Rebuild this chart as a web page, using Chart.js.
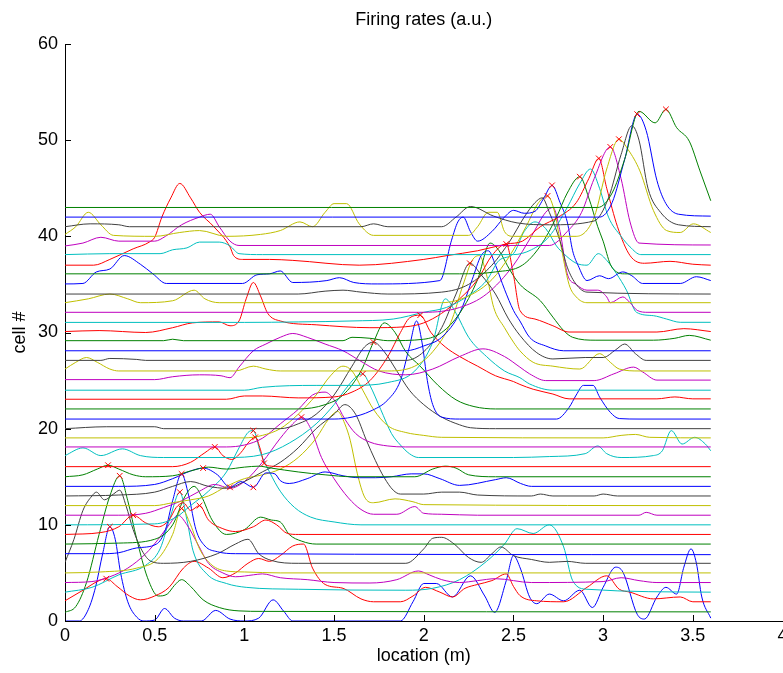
<!DOCTYPE html>
<html>
<head>
<meta charset="utf-8">
<script src="https://cdn.jsdelivr.net/npm/chart.js@4.4.1/dist/chart.umd.min.js"></script>
<style>
  html, body { margin: 0; padding: 0; overflow: hidden; background: #fff; }
  #wrap { width: 800px; height: 673px; }
</style>
</head>
<body>
<div id="wrap"><canvas id="chart"></canvas></div>
<script>
// matlab default colour order: b g r c m y k
const colorOrder = ['rgb(0,0,255)', 'rgb(0,128,0)', 'rgb(255,0,0)', 'rgb(0,191,191)', 'rgb(191,0,191)', 'rgb(191,191,0)', 'rgb(64,64,64)']

const xTicks = [0, 0.5, 1, 1.5, 2, 2.5, 3, 3.5, 4]
const yTicks = [0, 10, 20, 30, 40, 50, 60]

// one trace per cell: [location (m), cell offset + firing rate]
const c0 = [[0,0],[0.08,0],[0.13,1.2],[0.17,3.5],[0.21,7],[0.25,9.8],[0.28,8.5],[0.31,5],[0.35,2],[0.4,0.4],[0.44,0],[0.5,0.1],[0.555,1.3],[0.61,0.3],[0.66,0],[0.76,0],[0.84,1.1],[0.92,0.2],[1.0,0],[1.08,0.3],[1.16,2.2],[1.22,1],[1.27,0],[1.87,0],[1.94,2],[2.0,3.9],[2.07,3.9],[2.16,2.5],[2.26,4.7],[2.34,2.6],[2.395,0.9],[2.46,4.2],[2.5,6.8],[2.54,5.4],[2.59,2.5],[2.63,1.8],[2.7,2.8],[2.78,2.1],[2.87,3.2],[2.94,1.4],[3.0,3.5],[3.07,5.6],[3.11,5.1],[3.19,0.7],[3.23,0.2],[3.3,2.5],[3.35,3.5],[3.41,2.8],[3.45,5.6],[3.49,7.5],[3.52,6],[3.55,2.5],[3.6,0.3]]
const c1 = [[0,0.9],[0.06,1.5],[0.12,4],[0.19,9],[0.25,13],[0.305,15.1],[0.35,12.5],[0.4,8.5],[0.46,4.5],[0.52,2.6],[0.57,2.8],[0.61,3.7],[0.65,4.3],[0.7,3.6],[0.77,2.2],[0.86,1.4],[0.97,1.05],[1.1,1],[3.6,0.95]]
const c2 = [[0,2.1],[0.1,3.2],[0.19,4.2],[0.23,4.4],[0.29,3.6],[0.36,2.6],[0.42,2.2],[0.5,2.6],[0.58,3.5],[0.66,5.5],[0.72,6.2],[0.8,5.5],[0.88,4.5],[0.95,5],[1.02,6],[1.08,6.5],[1.14,6.2],[1.2,6.8],[1.27,7.8],[1.33,8],[1.38,5.5],[1.45,3.8],[1.55,3.4],[1.65,2.3],[1.72,2],[1.87,2],[1.94,2.6],[2.01,3.5],[2.09,3.0],[2.16,2.5],[2.23,3.4],[2.3,3.8],[2.38,4.2],[2.46,4.9],[2.5,3.6],[2.536,2.65],[2.63,2.1],[2.78,2],[2.91,3.5],[3.02,4.7],[3.09,3.3],[3.15,3],[3.28,2.3],[3.43,2.5],[3.5,2],[3.6,2]]
const c3 = [[0,3],[0.15,3.5],[0.3,4.8],[0.45,5.8],[0.53,7.5],[0.59,11],[0.64,13.4],[0.68,10.5],[0.714,7.3],[0.79,4.9],[0.9,3.9],[1.01,3.5],[1.3,3.3],[1.9,3.2],[2.05,3.4],[2.2,4.3],[2.35,6.2],[2.45,8],[2.52,9.6],[2.61,9.1],[2.7,10.0],[2.78,7.7],[2.83,4.2],[2.91,3.3],[3.6,3]]
const c4 = [[0,4],[0.15,4.1],[0.25,4.6],[0.35,5.5],[0.45,7],[0.52,8.5],[0.58,10],[0.63,11],[0.68,10],[0.74,8],[0.8,6],[0.88,5],[0.95,4.6],[1.05,4.8],[1.1,4.9],[1.2,4.5],[1.35,4.3],[1.5,4.0],[1.7,3.95],[1.85,4.3],[1.97,5.2],[2.03,4.8],[2.1,4.3],[2.2,4.0],[2.3,4.2],[2.4,4.4],[2.6,4],[3.0,4.1],[3.1,4.5],[3.2,4.2],[3.3,4],[3.6,4]]
const c5 = [[0,5],[0.2,5.1],[0.4,5.5],[0.52,6.5],[0.6,9],[0.65,11.7],[0.7,10],[0.75,7.5],[0.82,5.8],[0.9,5.2],[1.0,5.1],[1.2,5.0],[3.6,5.0]]
const c6 = [[0,6.1],[0.05,8.5],[0.1,11.5],[0.15,13],[0.175,13.4],[0.22,12.6],[0.27,13.2],[0.305,13.6],[0.34,12],[0.38,9.5],[0.43,7.3],[0.48,6.2],[0.55,6],[0.7,6.2],[0.85,7],[0.95,8],[1.02,8.5],[1.08,7],[1.15,6.3],[1.3,6],[1.9,6],[2.0,7.5],[2.05,8.6],[2.1,8.7],[2.17,8],[2.25,6.6],[2.32,6.1],[2.38,7],[2.43,7.7],[2.5,6.8],[2.6,6.4],[2.7,6.1],[2.8,6.2],[2.9,6.0],[3.6,6.0]]
const c7 = [[0,7],[0.2,7],[0.3,7.1],[0.4,7.6],[0.51,8],[0.56,9.5],[0.6,12.5],[0.65,15.3],[0.69,13],[0.73,9.5],[0.78,7.8],[0.85,7.2],[0.95,7],[3.6,6.9]]
const c8 = [[0,8],[0.3,8.1],[0.5,8.5],[0.6,10],[0.67,13],[0.72,14],[0.76,13],[0.82,10.5],[0.9,9],[1.0,9.5],[1.09,10.8],[1.15,10.5],[1.2,10.3],[1.25,9],[1.32,8.3],[1.4,8],[3.6,8]]
const c9 = [[0,9],[0.2,9.2],[0.3,9.8],[0.38,11],[0.45,10.2],[0.52,9.8],[0.58,10.5],[0.62,11.8],[0.66,12.3],[0.7,11.5],[0.75,12.0],[0.8,10.5],[0.88,9.6],[0.95,9.3],[1.05,9.8],[1.12,10.5],[1.18,10],[1.24,9.1],[1.3,9],[3.6,9]]
const c10 = [[0,10],[0.5,10.1],[0.62,10.8],[0.7,12],[0.8,13.5],[0.9,15.5],[0.97,18],[1.02,19.6],[1.05,19.8],[1.09,17.5],[1.14,15.5],[1.2,13.5],[1.28,11.8],[1.37,10.8],[1.5,10.3],[1.65,10],[3.6,10]]
const c11 = [[0,11],[0.3,11],[0.45,11.2],[0.55,11.8],[0.65,12.5],[0.75,13.5],[0.835,14.2],[0.92,13.8],[1.0,14.5],[1.1,16.5],[1.2,19],[1.27,20.5],[1.32,21.2],[1.37,20],[1.43,17],[1.5,14.8],[1.58,12.8],[1.65,11.6],[1.72,11.1],[1.85,11.1],[1.95,11.9],[2.0,11.2],[2.1,11.1],[2.3,11.0],[3.2,11.0],[3.24,11.3],[3.3,11.0],[3.6,11]]
const c12 = [[0,12],[0.5,12],[0.6,12.3],[0.7,12.6],[0.8,13],[0.9,14],[1.0,14.8],[1.1,15.2],[1.2,15.8],[1.3,17],[1.4,19],[1.47,21],[1.52,21.8],[1.56,20.5],[1.59,18.8],[1.63,15.3],[1.67,12.9],[1.72,12.3],[1.84,12.7],[1.94,12.4],[2.0,12.1],[3.6,12]]
const c13 = [[0,13],[0.3,13.1],[0.5,13.4],[0.6,14],[0.7,14.5],[0.8,14],[0.9,13.8],[1.0,14.5],[1.1,15.5],[1.2,16.5],[1.3,18],[1.4,20],[1.5,21.5],[1.56,22.5],[1.62,21.5],[1.68,18.8],[1.73,16.7],[1.78,14.9],[1.83,13.6],[1.87,13.2],[2.0,13.2],[2.1,13.4],[2.2,13.4],[2.3,13.1],[2.6,13.0],[2.65,13.2],[2.72,13],[2.95,13],[3.0,13.2],[3.08,13],[3.6,13]]
const c14 = [[0,14],[0.3,14],[0.5,14.2],[0.6,14.8],[0.7,15.6],[0.77,15.9],[0.85,15.2],[0.92,13.9],[0.98,14.5],[1.05,13.9],[1.12,15.4],[1.17,15.3],[1.2,14.6],[1.25,14.3],[1.35,14.8],[1.45,15.5],[1.55,15.1],[1.64,14.9],[1.73,14.9],[1.82,15.0],[1.93,15.3],[2.0,15.3],[2.09,14.8],[2.2,14.1],[2.4,14.7],[2.46,14.9],[2.54,14.3],[2.6,14],[3.6,14]]
const c15 = [[0,15],[0.1,15.2],[0.18,15.8],[0.24,16.2],[0.3,15.8],[0.38,15.2],[0.45,15],[0.6,15.1],[0.7,15.6],[0.8,16],[0.9,15.8],[1.0,16],[1.08,16.1],[1.15,15.9],[1.3,15.5],[1.45,15.2],[1.6,15],[1.95,15],[2.05,15.8],[2.12,16.1],[2.18,15.9],[2.25,15.2],[2.4,15],[3.6,15]]
const c16 = [[0,16.05],[0.6,16.05],[0.7,16.5],[0.78,17.5],[0.835,18.1],[0.88,17.2],[0.93,16.8],[0.98,17.5],[1.02,18.5],[1.06,19.1],[1.09,17.8],[1.11,16.4],[1.15,16.1],[1.2,16.05],[3.6,16.05]]
const c17 = [[0,17.2],[0.1,18],[0.2,17.2],[0.32,17.9],[0.42,17.2],[0.55,17],[0.9,17],[1.1,17.3],[1.25,18.5],[1.4,20.5],[1.5,22.5],[1.58,24.5],[1.63,25.5],[1.66,25.7],[1.7,24.5],[1.76,22],[1.82,19.5],[1.87,18.3],[1.92,17.4],[1.97,17],[2.5,17],[2.7,17.1],[2.9,17.4],[2.97,18.2],[3.02,17.4],[3.1,17],[3.28,17.2],[3.33,17.7],[3.38,19.8],[3.44,18.4],[3.51,19.1],[3.57,18.4],[3.6,17.7]]
const c18 = [[0,18.1],[0.9,18.1],[1.0,18.3],[1.1,19],[1.2,20.5],[1.3,22],[1.38,23.5],[1.45,23.8],[1.5,23],[1.56,21],[1.62,19.5],[1.7,18.6],[1.8,18.2],[1.9,18.1],[3.6,18.1]]
const c19 = [[0,19.04],[1.0,19.04],[1.1,19.3],[1.2,20],[1.3,21.5],[1.4,23.5],[1.48,25.5],[1.55,26.5],[1.6,26],[1.66,24],[1.72,22],[1.8,20.3],[1.9,19.6],[2.0,19.3],[2.1,19.1],[3.0,19.04],[3.1,19.3],[3.18,19.4],[3.26,19.1],[3.6,19.04]]
const c20 = [[0,20],[0.23,20.2],[0.5,20.2],[0.55,20],[1.2,20],[1.3,20.5],[1.4,21.5],[1.5,23.5],[1.6,26.5],[1.67,28.5],[1.72,29],[1.78,28],[1.85,26],[1.92,24],[2.0,22.5],[2.1,21.2],[2.2,20.4],[2.26,20.1],[2.4,20],[3.6,20]]
const c21 = [[0,21],[1.5,21],[1.6,21.2],[1.7,21.8],[1.8,23],[1.87,25],[1.92,28.5],[1.96,31.2],[1.99,29],[2.02,25],[2.05,22.5],[2.1,21.2],[2.2,21],[2.74,21],[2.81,22.2],[2.85,23.5],[2.89,24.5],[2.944,24.5],[2.98,23.3],[3.04,21.7],[3.09,21.05],[3.2,21],[3.6,21]]
const c22 = [[0,22.05],[1.3,22.05],[1.45,22.5],[1.55,23.5],[1.65,26],[1.72,29],[1.78,31],[1.84,30],[1.9,28],[1.98,26.5],[2.08,24.5],[2.18,23],[2.28,22.3],[2.4,22.05],[3.6,22.05]]
const c23 = [[0,23.06],[0.9,23.06],[1.0,23.4],[1.1,23.4],[1.3,23.2],[1.5,23.3],[1.6,23.8],[1.7,25],[1.8,27.5],[1.87,30],[1.92,31.5],[1.98,31.8],[2.04,30],[2.12,28.5],[2.2,27.5],[2.3,26.5],[2.4,25.5],[2.5,24.9],[2.536,24.6],[2.61,24.1],[2.72,23.6],[2.81,23.1],[3.3,23.1],[3.4,23.3],[3.5,23.1],[3.6,23.1]]
const c24 = [[0,24],[1.0,24],[1.1,24.3],[1.4,24.5],[1.6,24.5],[1.8,24.8],[1.95,26],[2.05,29],[2.12,33.5],[2.18,32],[2.25,29.5],[2.35,27.5],[2.45,26],[2.536,25.3],[2.59,24.65],[2.72,24],[3.6,24]]
const c25 = [[0,25.1],[0.5,25.1],[0.6,25.4],[0.75,25.6],[0.87,25.5],[0.92,25.3],[0.97,26.4],[1.05,28.1],[1.12,28.8],[1.2,29.5],[1.27,29.9],[1.35,29.5],[1.45,28.8],[1.55,28.1],[1.65,27],[1.75,26],[1.9,25.6],[2.05,26.2],[2.2,27.5],[2.33,28.3],[2.45,27.5],[2.536,26.4],[2.59,25.7],[2.68,25],[2.95,25],[3.06,25.7],[3.17,26.4],[3.22,25.9],[3.3,25.05],[3.6,25.05]]
const c26 = [[0,26.2],[0.06,26.9],[0.12,27.4],[0.18,26.9],[0.25,26.2],[0.3,26],[0.95,26],[1.05,26.5],[1.12,26.2],[1.2,26],[1.8,26],[1.95,26.5],[2.05,28],[2.15,31],[2.22,35],[2.27,37.5],[2.31,38],[2.35,36],[2.39,32.6],[2.45,30.5],[2.5,29],[2.536,28.1],[2.61,26.9],[2.72,26.5],[2.87,26.2],[2.98,27.8],[3.04,26.9],[3.09,26.2],[3.2,26],[3.6,26]]
const c27 = [[0,27.1],[0.2,27.1],[0.25,27.3],[0.4,27.2],[0.45,27.1],[1.9,27.1],[2.0,28],[2.1,30.5],[2.18,34],[2.257,37.2],[2.32,36],[2.4,34],[2.47,31.5],[2.536,29.7],[2.63,27.9],[2.72,27.25],[2.9,27.4],[3.0,27.4],[3.07,28.2],[3.12,28.8],[3.18,27.8],[3.24,27.1],[3.6,27.1]]
const c28 = [[0,28.1],[1.9,28.1],[2.0,28.6],[2.1,29.5],[2.2,32],[2.27,35.5],[2.32,38],[2.36,38.5],[2.4,37],[2.45,34.5],[2.5,32.3],[2.536,31.2],[2.59,29.5],[2.68,28.6],[2.78,28.1],[3.6,28.1]]
const c29 = [[0,29.15],[0.55,29.15],[0.6,29.3],[0.66,29.15],[1.55,29.15],[1.6,29.5],[1.7,29.4],[1.8,29.15],[2.0,29.3],[2.1,30],[2.2,32],[2.3,35.5],[2.37,39.3],[2.42,38.5],[2.48,36.5],[2.536,35],[2.65,33.3],[2.72,31.6],[2.78,30.2],[2.83,29.5],[2.96,29.2],[3.28,29.2],[3.4,29.4],[3.48,29.7],[3.6,29.2]]
const c30 = [[0,30.1],[0.19,30.2],[0.45,30],[0.6,30.5],[0.71,31],[0.86,31.1],[0.92,30.7],[0.97,31.2],[1.01,33.5],[1.05,35.2],[1.09,33.8],[1.13,32],[1.2,31.2],[1.4,30.8],[1.7,30.5],[1.9,30.6],[2.0,31],[2.1,32],[2.2,33.5],[2.3,35.5],[2.38,38],[2.46,39.2],[2.5,36],[2.536,32.3],[2.62,31.4],[2.72,30.7],[2.81,30.05],[3.3,30.05],[3.45,30.4],[3.6,30.1]]
const c31 = [[0,31.05],[1.0,31.05],[1.3,31.1],[1.6,31.2],[1.83,31.4],[2.0,32.1],[2.126,32.6],[2.238,33.7],[2.35,35.4],[2.42,37.5],[2.5,38.2],[2.56,40.5],[2.62,41.5],[2.68,40.8],[2.74,39],[2.78,38.2],[2.85,37.2],[2.91,37],[2.973,38.2],[3.02,37.5],[3.075,36.1],[3.13,34.4],[3.186,32.1],[3.28,31.75],[3.354,31.4],[3.43,31.06],[3.6,31.06]]
const c32 = [[0,32.1],[2.0,32.1],[2.2,32.6],[2.35,34],[2.5,37],[2.6,40],[2.68,42.5],[2.72,43],[2.76,40.5],[2.8,36.1],[2.85,35],[2.91,34.4],[2.97,34.4],[3.02,33.7],[3.04,33.1],[3.11,33.7],[3.15,33.1],[3.19,32.3],[3.25,32.1],[3.6,32.1]]
const c33 = [[0,33.1],[0.13,33.5],[0.25,34],[0.35,33.5],[0.42,33.1],[0.6,33.3],[0.72,34.4],[0.78,33.5],[0.86,33.1],[2.1,33.1],[2.25,33.8],[2.38,35.5],[2.48,38],[2.57,41],[2.64,43.5],[2.69,44.2],[2.73,42.5],[2.76,39.5],[2.81,35],[2.85,33.7],[2.91,33.1],[3.6,33.1]]
const c34 = [[0,34],[1.3,34],[1.45,34.3],[1.55,34.4],[1.65,34.2],[1.8,34],[2.1,34.2],[2.25,35],[2.38,37],[2.48,39.5],[2.56,42],[2.62,43.5],[2.66,44],[2.7,42.5],[2.76,39.5],[2.8,36.8],[2.85,35],[2.91,34.2],[3.6,34]]
const c35 = [[0,35.05],[0.1,35.1],[0.175,36.3],[0.25,36.6],[0.33,38],[0.42,37.1],[0.49,36.1],[0.565,35.1],[0.99,35.1],[1.07,36],[1.14,36.1],[1.2,36.4],[1.27,35.2],[1.46,35.4],[1.53,35.7],[1.61,35.2],[1.74,35.05],[2.09,35.4],[2.155,39.6],[2.19,41.5],[2.22,42],[2.26,40.5],[2.3,39.5],[2.38,40.5],[2.45,42],[2.5,42.7],[2.56,42.4],[2.62,42.6],[2.67,44],[2.715,45.3],[2.76,43.5],[2.8,41.5],[2.83,38.5],[2.86,37],[2.91,35.4],[2.98,35.9],[3.03,35.6],[3.11,36.3],[3.16,35.9],[3.22,35.1],[3.43,35.1],[3.52,35.8],[3.6,35.4]]
const c36 = [[0,36.1],[2.2,36.1],[2.4,36.3],[2.55,37],[2.65,39],[2.74,42],[2.8,44.5],[2.87,46.2],[2.92,44],[2.97,41],[3.0,39.5],[3.04,37.1],[3.075,36.3],[3.12,36.1],[3.6,36.1]]
const c37 = [[0,37],[0.16,37],[0.25,37.6],[0.38,38.7],[0.47,39.4],[0.5,39.9],[0.54,42],[0.59,44],[0.64,45.5],[0.7,44],[0.75,42.5],[0.83,41],[0.92,38.9],[0.94,38],[0.99,37.6],[1.14,37.6],[1.27,37.5],[1.64,37],[2.0,37.6],[2.13,38],[2.3,38.5],[2.46,39.2],[2.55,39.5],[2.65,41],[2.75,42],[2.85,43.5],[2.92,46],[2.976,48.1],[3.02,45],[3.08,41],[3.15,38],[3.23,37.2],[3.373,37.4],[3.5,37.1],[3.6,37]]
const c38 = [[0,38.1],[0.25,38.2],[0.53,38.2],[0.6,38.6],[0.68,38.8],[0.75,39.4],[0.86,39.4],[0.92,39.0],[0.97,38.2],[1.1,38.1],[2.5,38.1],[2.6,38.6],[2.7,40],[2.8,43],[2.87,45.5],[2.93,47],[2.98,45],[3.03,42],[3.1,40],[3.15,38.9],[3.21,38.1],[3.6,38.1]]
const c39 = [[0,39],[0.1,39.3],[0.2,39.9],[0.3,39.5],[0.5,39.5],[0.56,40],[0.65,41.2],[0.75,42],[0.81,42.3],[0.86,41],[0.92,39.5],[0.97,39.05],[2.7,39.05],[2.8,40.5],[2.88,42.5],[2.95,46],[3.04,49.3],[3.1,46],[3.15,41.5],[3.2,39.3],[3.6,39.1]]
const c40 = [[0,40.2],[0.06,41],[0.13,42.5],[0.2,41.2],[0.27,40.1],[0.5,40],[0.64,40.4],[0.75,40.6],[0.9,40],[1.09,40.2],[1.2,40.6],[1.31,41.5],[1.38,41],[1.45,42.5],[1.5,43.4],[1.57,43.4],[1.64,41.3],[1.72,40.1],[2.25,40.1],[2.3,41],[2.36,42.5],[2.41,42.5],[2.45,40.5],[2.5,40],[2.85,40],[2.95,42],[3.02,47],[3.088,50.1],[3.14,49],[3.205,46.8],[3.28,42.7],[3.354,40.6],[3.43,40.4],[3.503,41.3],[3.6,40.4]]
const c41 = [[0,41],[0.14,41.3],[0.3,41.2],[0.36,41],[1.65,41],[1.72,41.3],[1.8,41],[2.1,41],[2.18,42],[2.26,43.1],[2.39,42.1],[2.52,41.4],[2.7,41.2],[2.95,41.6],[3.03,44],[3.1,48.5],[3.16,51.5],[3.2,50],[3.25,45],[3.32,42.5],[3.42,41.2],[3.6,41]]
const c42 = [[0,42],[2.98,42],[3.05,43.5],[3.12,48],[3.19,52.7],[3.24,51],[3.3,45.8],[3.35,43.4],[3.42,42.3],[3.6,42.1]]
const c43 = [[0,43],[2.97,43],[3.05,44.5],[3.12,48],[3.2,53],[3.29,51.8],[3.35,53.2],[3.41,51.3],[3.48,49.9],[3.54,46.8],[3.6,43.7]]

const traces = [c0, c1, c2, c3, c4, c5, c6, c7, c8, c9, c10, c11, c12, c13, c14, c15, c16, c17, c18, c19, c20, c21,
    c22, c23, c24, c25, c26, c27, c28, c29, c30, c31, c32, c33, c34, c35, c36, c37, c38, c39, c40, c41, c42, c43]

// red x markers on the peaks
const peakX = [0.23, 0.24, 0.25, 0.305, 0.38, 0.64, 0.65, 0.65, 0.75, 0.77, 0.835, 0.92, 1.05, 1.05, 1.06, 1.11, 1.318, 1.66, 1.72, 1.98, 2.257, 2.46, 2.69, 2.715, 2.87, 2.976, 3.04, 3.088, 3.19, 3.35]
const peakY = [4.4, 16.2, 9.8, 15.1, 11.0, 13.4, 15.3, 11.7, 12.0, 15.9, 18.1, 13.9, 13.9, 19.8, 19.1, 16.4, 21.2, 25.7, 29.0, 31.8, 37.2, 39.2, 44.2, 45.3, 46.2, 48.1, 49.3, 50.1, 52.7, 53.2]

const FONT = { family: '"Liberation Sans", Arial, sans-serif', size: 18 }

const datasets = traces.map((pts, i) => ({
    type: 'line',
    data: pts.map(p => ({ x: p[0], y: p[1] })),
    borderColor: colorOrder[i % 7],
    borderWidth: 1,
    pointRadius: 0,
    fill: false,
    cubicInterpolationMode: 'monotone',
    order: -i // later cells drawn on top, like matlab
}))

datasets.push({
    type: 'scatter',
    data: peakX.map((x, i) => ({ x: x, y: peakY[i] })),
    pointStyle: 'crossRot',
    pointRadius: 4,
    borderColor: 'rgb(255,0,0)',
    backgroundColor: 'rgb(255,0,0)',
    borderWidth: 1,
    order: -100
})

// matlab puts the tick marks inside the axes
const innerTicks = {
    id: 'innerTicks',
    afterDatasetsDraw(chart) {
        const { ctx, chartArea, scales } = chart
        ctx.save()
        ctx.strokeStyle = '#000'
        ctx.lineWidth = 1
        ctx.beginPath()
        xTicks.forEach(v => {
            const px = Math.round(scales.x.getPixelForValue(v)) + 0.5
            ctx.moveTo(px, chartArea.bottom)
            ctx.lineTo(px, chartArea.bottom - 6)
        })
        yTicks.forEach(v => {
            const py = Math.round(scales.y.getPixelForValue(v)) + 0.5
            ctx.moveTo(chartArea.left, py)
            ctx.lineTo(chartArea.left + 6, py)
        })
        ctx.stroke()
        ctx.restore()
    }
}

new Chart(document.getElementById('chart'), {
    data: { datasets: datasets },
    options: {
        responsive: true,
        maintainAspectRatio: false,
        animation: false,
        devicePixelRatio: 1,
        layout: { padding: { left: 0, top: 0, right: 17.5, bottom: 0 } },
        plugins: {
            legend: { display: false },
            tooltip: { enabled: false }
        },
        scales: {
            x: {
                type: 'linear',
                position: 'bottom',
                min: 0,
                max: 4,
                afterBuildTicks: s => { s.ticks = xTicks.map(v => ({ value: v })) },
                afterFit: s => { s.height = 52 },
                ticks: { color: '#000', font: FONT, padding: 4, maxRotation: 0, autoSkip: false, callback: v => String(v) },
                grid: { display: false, drawTicks: false },
                border: { display: true, color: '#000', width: 1 },
                title: { display: true, text: 'location (m)', color: '#000', font: FONT, padding: { top: 0, bottom: 6 } }
            },
            x2: {
                type: 'linear',
                position: 'top',
                min: 0,
                max: 4,
                display: true,
                afterFit: s => { s.height = 44 },
                ticks: { display: false },
                grid: { display: false, drawTicks: false },
                border: { display: false },
                title: { display: true, text: 'Firing rates (a.u.)', color: '#000', font: FONT, padding: { top: 9.5, bottom: 0 } }
            },
            y: {
                type: 'linear',
                min: 0,
                max: 60,
                afterBuildTicks: s => { s.ticks = yTicks.map(v => ({ value: v })) },
                afterFit: s => { s.width = 65 },
                ticks: { color: '#000', font: FONT, padding: 7, callback: v => String(v) },
                grid: { display: false, drawTicks: false },
                border: { display: true, color: '#000', width: 1 },
                title: { display: true, text: 'cell #', color: '#000', font: FONT, padding: { top: 9, bottom: 0 } }
            }
        }
    },
    plugins: [innerTicks]
})
</script>
</body>
</html>
